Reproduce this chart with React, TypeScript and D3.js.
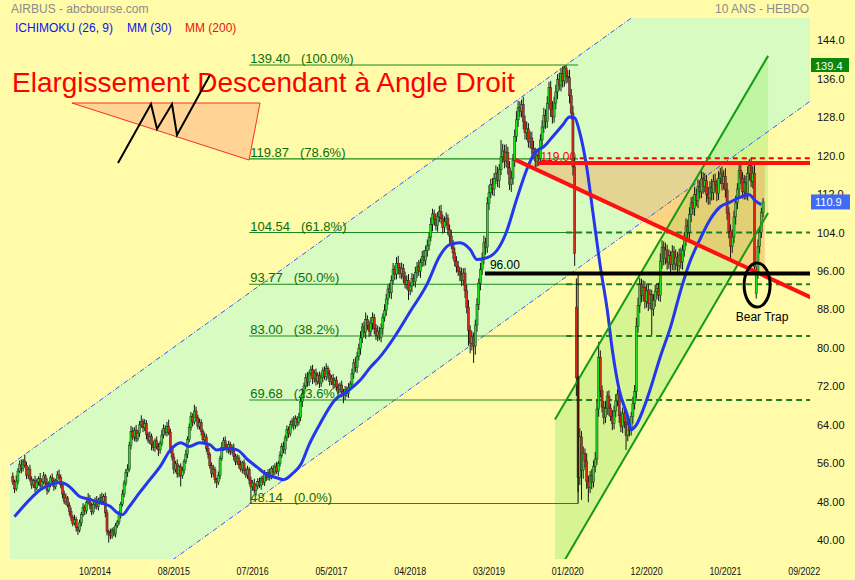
import React from "react";
import * as d3 from "d3";

// ---- Weekly Airbus prices (EUR), Nov 2013 → Mar 2022 ----
const firstOpen = 53.8;
const closes: number[] = [
  52.6, 51.2, 52.8, 54.9, 56.2, 55.4, 57.0, 56.1, 54.0, 55.3,
  53.2, 52.0, 52.9, 51.4, 52.6, 53.3, 51.8, 52.7, 53.9, 52.4,
  50.9, 52.2, 53.5, 52.8, 51.6, 52.9, 54.1, 53.6, 52.0, 50.1,
  48.6, 49.3, 47.8, 46.5, 45.2, 44.0, 44.8, 43.1, 42.6, 44.1,
  45.9, 47.3, 46.6, 48.4, 49.2, 47.8, 46.4, 47.9, 48.8, 47.5,
  48.9, 49.4, 48.6, 49.6, 46.2, 42.3, 42.0, 41.4, 42.6, 41.8,
  43.5, 44.3, 45.8, 48.0, 50.1, 52.4, 54.6, 55.3, 60.2, 63.1,
  62.0, 63.4, 61.6, 62.8, 64.5, 65.2, 63.9, 64.8, 62.5, 61.3,
  62.1, 60.4, 59.8, 61.2, 60.0, 59.3, 60.6, 62.4, 63.8, 62.9,
  64.2, 63.0, 59.6, 57.8, 55.2, 56.4, 54.3, 55.8, 53.9, 55.0,
  56.9, 58.4, 61.5, 64.0, 66.2, 65.1, 67.4, 66.0, 64.2, 65.0,
  63.1, 61.4, 62.0, 59.6, 58.3, 56.0, 54.4, 55.2, 53.1, 52.6,
  54.0, 57.5, 59.8, 61.2, 60.1, 59.3, 60.4, 58.9, 59.7, 58.0,
  56.8, 57.6, 56.2, 55.3, 56.6, 55.0, 54.1, 55.2, 53.0, 51.6,
  52.4, 50.9, 51.8, 52.7, 51.9, 53.4, 52.6, 54.2, 53.5, 54.6,
  53.8, 55.4, 54.7, 55.9, 54.8, 56.5, 58.2, 60.0, 59.4, 61.8,
  63.5, 62.7, 64.6, 65.3, 64.4, 65.8, 65.0, 66.1, 69.4, 71.0,
  72.6, 74.3, 73.4, 75.2, 76.0, 74.1, 75.3, 73.6, 74.8, 73.2,
  74.4, 75.8, 74.6, 76.2, 75.1, 73.5, 74.2, 72.9, 73.8, 72.4,
  71.9, 72.8, 71.4, 70.6, 71.8, 71.1, 72.3, 73.0, 75.2, 77.4,
  76.5, 78.8, 80.4, 82.6, 84.9, 83.8, 86.4, 85.2, 84.0, 85.6,
  86.8, 84.5, 83.1, 84.0, 82.7, 84.6, 86.9, 88.3, 90.7, 92.8,
  92.0, 94.6, 96.8, 95.9, 98.1, 97.2, 96.0, 97.1, 95.3, 93.8,
  94.6, 92.5, 93.4, 95.0, 94.3, 96.2, 97.4, 96.5, 98.3, 99.6,
  98.7, 100.8, 101.9, 103.6, 106.2, 108.4, 107.2, 106.0, 107.8, 108.9,
  107.4, 105.6, 106.8, 107.5, 105.2, 103.8, 102.1, 100.3, 98.6, 97.4,
  96.5, 95.8, 94.6, 96.1, 92.4, 89.0, 84.2, 81.5, 82.8, 80.9,
  85.3, 89.6, 94.0, 96.8, 99.2, 102.4, 101.5, 110.6, 112.8, 114.5,
  113.6, 115.8, 116.9, 115.4, 117.6, 120.3, 121.5, 119.4, 121.2, 118.0,
  114.6, 115.8, 119.6, 124.5, 128.0, 130.6, 129.8, 131.2, 127.6, 125.3,
  126.1, 123.4, 124.2, 122.0, 121.1, 119.4, 120.6, 119.9, 123.8, 126.5,
  128.9, 127.6, 131.4, 134.7, 130.2, 128.6, 131.5, 133.8, 136.4, 135.2,
  137.6, 136.1, 138.8, 137.0, 136.8, 133.0, 129.4, 118.2, 100.2, 74.3,
  53.6, 62.0, 55.1, 58.6, 57.0, 52.8, 51.5, 54.0, 52.6, 55.9,
  57.4, 67.8, 78.6, 71.6, 68.2, 66.1, 67.9, 70.5, 68.0, 66.3,
  64.8, 67.4, 69.5, 70.9, 66.4, 64.2, 66.8, 65.1, 62.3, 64.6,
  63.4, 66.2, 68.9, 71.5, 85.0, 89.4, 93.7, 91.4, 93.1, 90.2,
  92.5, 89.8, 91.6, 88.6, 90.4, 92.2, 92.9, 91.5, 98.6, 101.5,
  99.1, 100.9, 98.3, 99.7, 97.9, 100.5, 98.0, 99.4, 97.6, 99.9,
  98.4, 100.8, 103.2, 105.9, 104.6, 108.3, 110.7, 109.5, 112.4, 111.2,
  114.1, 113.0, 115.7, 114.1, 115.3, 112.5, 111.7, 113.9, 112.8, 115.2,
  114.4, 112.7, 115.8, 116.9, 114.8, 116.2, 113.4, 108.6, 104.8, 101.7,
  103.6, 107.8, 110.7, 113.6, 117.5, 115.8, 113.0, 114.9, 112.7, 116.8,
  118.5, 115.2, 116.9, 97.4, 96.2, 101.6, 104.6, 108.7, 110.9,
];

// Distance from body top to weekly high
const wickUp: number[] = [
  0.8, 0.5, 1.2, 0.6, 0.9, 1.1, 0.4, 1.3, 0.7, 0.5,
  0.9, 0.6, 0.4, 1.0, 0.7, 0.5, 1.2, 0.6, 0.8, 0.4,
  1.0, 0.6, 0.5, 0.9, 0.7, 0.4, 0.8, 1.1, 0.6, 0.5,
  0.7, 0.9, 0.4, 0.6, 0.8, 0.5, 1.0, 0.6, 0.4, 0.7,
  0.5, 0.9, 0.6, 0.4, 1.1, 0.7, 0.5, 0.8, 0.6, 0.9,
  0.4, 0.7, 1.0, 0.5, 0.8, 0.6, 0.4, 0.9, 0.5, 0.7,
  0.6, 0.4, 0.8, 0.5, 0.9, 0.6, 0.7, 1.0, 0.8, 1.2,
  0.9, 0.6, 1.1, 0.7, 0.8, 1.3, 0.6, 0.9, 0.7, 0.5,
  1.0, 0.6, 0.8, 0.5, 0.9, 0.7, 0.6, 1.1, 0.8, 0.6,
  0.9, 1.4, 0.7, 0.5, 0.8, 0.6, 0.9, 0.4, 0.7, 0.8,
  0.5, 0.9, 0.6, 0.8, 1.0, 0.7, 1.3, 0.9, 0.6, 0.8,
  0.7, 0.5, 0.9, 0.6, 0.8, 0.5, 0.7, 1.0, 0.6, 0.4,
  0.8, 0.6, 1.1, 0.7, 0.9, 0.5, 0.8, 0.6, 0.7, 0.9,
  0.5, 0.8, 0.6, 0.9, 0.4, 0.7, 0.6, 0.8, 0.5, 0.7,
  0.6, 0.9, 0.5, 0.7, 0.8, 0.4, 0.6, 0.9, 0.5, 0.7,
  0.8, 0.5, 0.7, 0.6, 0.9, 0.5, 0.8, 0.7, 1.0, 0.6,
  0.9, 0.7, 0.8, 0.6, 1.0, 0.7, 0.5, 0.9, 0.8, 1.1,
  0.7, 0.9, 1.2, 0.6, 0.8, 1.0, 0.7, 0.9, 0.6, 0.8,
  1.0, 0.7, 0.9, 1.1, 0.6, 0.8, 0.7, 0.9, 0.6, 0.8,
  0.7, 0.5, 0.9, 0.6, 0.8, 0.7, 0.9, 0.6, 1.0, 0.8,
  1.2, 0.9, 1.0, 1.4, 0.8, 1.1, 1.5, 0.9, 1.0, 1.3,
  1.1, 0.8, 1.0, 1.2, 0.9, 1.0, 0.8, 1.3, 1.1, 0.9,
  1.2, 1.0, 1.4, 0.9, 1.3, 1.6, 1.0, 1.2, 0.9, 1.1,
  1.0, 1.3, 0.8, 1.1, 0.9, 1.2, 1.0, 1.4, 0.8, 1.1,
  1.3, 1.0, 1.2, 0.9, 1.5, 1.1, 0.9, 1.3, 1.0, 1.2,
  1.4, 0.9, 1.1, 1.2, 0.8, 1.0, 1.3, 0.9, 1.1, 1.0,
  1.2, 0.9, 1.4, 1.0, 1.1, 1.3, 1.5, 1.0, 1.2, 0.9,
  1.1, 1.3, 1.0, 1.4, 1.2, 1.5, 1.1, 1.3, 1.6, 1.2,
  1.4, 1.1, 1.6, 1.3, 1.2, 3.5, 1.5, 1.3, 1.7, 1.2,
  1.4, 1.6, 1.3, 1.5, 1.8, 1.4, 1.2, 1.0, 1.6, 1.3,
  1.5, 1.2, 1.4, 1.3, 1.6, 1.1, 1.3, 1.5, 1.2, 1.4,
  1.6, 1.3, 1.5, 1.2, 1.4, 1.7, 1.3, 1.5, 1.1, 1.4,
  1.2, 1.5, 0.4, 0.6, 1.3, 1.6, 1.4, 1.5, 2.0, 6.0,
  0.4, 1.8, 1.2, 1.4, 1.0, 1.6, 1.1, 0.9, 1.3, 1.2,
  1.5, 2.0, 3.2, 1.4, 1.1, 1.3, 1.6, 1.0, 1.2, 0.9,
  1.3, 1.1, 1.4, 1.0, 1.2, 0.9, 1.3, 1.0, 1.1, 1.4,
  1.2, 1.0, 1.5, 1.3, 1.8, 1.6, 1.4, 1.2, 1.5, 1.3,
  1.1, 1.4, 1.2, 1.0, 1.3, 1.5, 1.1, 1.2, 1.6, 1.4,
  1.2, 1.5, 1.1, 1.3, 1.0, 1.4, 1.2, 1.6, 1.1, 1.3,
  1.5, 1.2, 1.4, 1.6, 1.3, 1.5, 1.2, 1.4, 1.7, 1.3,
  1.5, 1.3, 2.0, 1.4, 1.6, 1.2, 1.5, 1.3, 1.8, 1.4,
  1.6, 1.2, 1.5, 1.1, 1.4, 1.3, 1.7, 1.5, 1.2, 1.4,
  1.6, 1.3, 1.5, 1.2, 1.1, 1.8, 1.3, 1.6, 1.4, 1.5,
  1.3, 1.6, 1.4, 1.7, 1.3, 1.5, 1.2, 1.0, 0.8,
];

// Distance from body bottom to weekly low
const wickDown: number[] = [
  0.6, 0.9, 0.5, 0.7, 0.4, 1.0, 0.6, 0.5, 0.8, 0.7,
  0.5, 0.8, 0.6, 0.9, 0.5, 0.7, 0.4, 0.8, 0.6, 0.7,
  0.9, 0.5, 0.7, 0.6, 0.8, 0.5, 0.6, 0.4, 0.7, 0.9,
  0.6, 0.8, 0.5, 0.9, 0.7, 0.6, 0.4, 0.8, 1.0, 0.5,
  0.7, 0.5, 0.9, 0.6, 0.4, 0.8, 0.7, 0.5, 0.9, 0.6,
  0.8, 0.5, 0.7, 0.6, 0.9, 0.8, 2.0, 0.7, 0.6, 0.5,
  0.7, 0.5, 0.6, 0.8, 0.5, 0.7, 0.6, 0.9, 0.5, 0.8,
  0.6, 0.9, 0.7, 0.5, 0.8, 0.6, 0.9, 0.7, 1.0, 0.6,
  0.8, 1.2, 0.7, 0.9, 0.6, 1.3, 0.8, 0.5, 0.7, 0.6,
  0.8, 0.6, 1.0, 0.7, 0.9, 0.6, 0.8, 0.7, 2.2, 0.6,
  0.7, 0.5, 0.8, 0.6, 0.7, 0.9, 0.5, 0.8, 0.6, 0.7,
  0.8, 0.6, 0.9, 0.7, 0.8, 0.6, 0.9, 0.7, 0.8, 1.2,
  0.6, 0.8, 0.5, 0.7, 0.9, 0.6, 0.8, 0.7, 0.5, 0.9,
  0.7, 0.6, 0.8, 0.5, 0.9, 0.7, 0.6, 0.8, 0.9, 3.46,
  0.8, 0.6, 1.1, 0.7, 0.5, 0.9, 0.6, 0.8, 0.7, 0.5,
  0.9, 0.6, 0.8, 0.7, 0.5, 0.9, 0.7, 0.6, 0.8, 1.0,
  0.7, 0.9, 0.6, 0.8, 1.0, 0.7, 0.9, 0.6, 0.8, 1.2,
  0.9, 0.7, 1.0, 0.8, 0.6, 1.1, 0.8, 0.9, 0.7, 1.0,
  0.8, 1.0, 0.7, 0.9, 1.1, 0.8, 0.7, 1.0, 0.8, 0.9,
  1.0, 0.8, 1.2, 1.6, 0.9, 0.8, 1.0, 0.7, 0.9, 1.1,
  1.0, 1.2, 0.9, 1.3, 1.1, 1.0, 1.4, 0.9, 1.2, 1.0,
  1.3, 1.1, 0.9, 1.2, 0.6, 1.0, 1.3, 0.9, 1.1, 1.2,
  1.0, 1.3, 0.9, 1.2, 1.1, 1.4, 1.0, 1.2, 1.3, 0.9,
  1.1, 2.0, 1.0, 1.3, 0.9, 1.2, 1.1, 1.0, 1.4, 0.9,
  1.2, 1.0, 1.3, 1.1, 0.9, 1.4, 1.2, 1.0, 1.3, 1.1,
  1.0, 1.3, 1.1, 0.9, 1.2, 1.4, 1.0, 1.3, 1.1, 1.2,
  1.0, 1.4, 1.2, 1.1, 1.5, 1.3, 3.2, 2.1, 1.5, 3.5,
  1.8, 1.4, 1.2, 1.5, 1.1, 1.3, 1.6, 1.2, 1.4, 1.1,
  1.3, 1.5, 1.2, 1.4, 1.6, 1.1, 1.3, 1.5, 1.2, 1.4,
  1.2, 1.6, 1.3, 1.4, 1.1, 1.5, 1.2, 1.3, 1.6, 1.4,
  1.5, 1.2, 1.4, 1.3, 1.1, 1.6, 1.2, 1.5, 1.3, 1.4,
  1.2, 1.5, 1.3, 1.1, 1.6, 1.4, 1.2, 1.3, 1.5, 1.1,
  1.3, 1.4, 1.2, 1.5, 1.1, 1.6, 1.3, 1.8, 2.6, 3.8,
  3.1, 1.6, 6.2, 1.8, 1.4, 1.6, 3.1, 1.2, 1.5, 1.1,
  1.3, 1.2, 1.6, 1.4, 1.1, 1.5, 1.2, 1.3, 1.6, 1.0,
  1.4, 1.2, 1.3, 1.1, 1.5, 1.2, 1.4, 1.3, 3.0, 1.2,
  1.3, 1.1, 1.4, 1.2, 1.5, 1.3, 1.6, 1.4, 1.2, 1.5,
  1.3, 1.6, 1.2, 5.4, 1.4, 1.3, 1.5, 1.2, 1.4, 1.6,
  1.4, 1.2, 1.5, 1.3, 1.6, 1.2, 1.4, 1.3, 1.5, 1.2,
  1.4, 1.6, 1.3, 1.5, 1.2, 1.4, 1.6, 1.3, 1.5, 1.2,
  1.6, 1.4, 1.3, 1.5, 1.2, 1.7, 1.4, 1.3, 1.6, 1.5,
  1.3, 1.6, 1.4, 1.2, 1.5, 1.3, 1.6, 1.4, 1.5, 2.8,
  1.4, 1.2, 1.6, 1.3, 1.5, 1.2, 1.4, 1.6, 1.3, 1.5,
  1.4, 1.2, 1.5, 1.6, 1.1, 1.3, 1.4, 1.2, 1.0,
];

// Weeks that opened away from the prior close: [week index, open]
const gapOpens: [number, number][] = [
  [329, 89.0],
  [434, 91.9],
];

// 30-week moving average: [week index] and value
const maWeeks: number[] = [
  1, 10, 16, 22, 28, 33, 39, 45, 51, 57, 61, 64, 68, 74, 80, 86, 92, 98, 103, 109,
  115, 119, 125, 131, 137, 143, 148, 154, 158, 164, 168, 173, 179, 188, 195, 203, 209, 214, 223, 232,
  242, 249, 255, 261, 267, 271, 277, 283, 288, 294, 300, 305, 310, 315, 321, 325, 328, 331, 335, 339,
  343, 347, 350, 354, 359, 361, 364, 368, 372, 378, 384, 390, 395, 401, 407, 413, 419, 424, 430, 433, 437,
];
const maValues: number[] = [
  45.4, 49.0, 51.0, 52.1, 52.5, 51.7, 49.6, 49.0, 48.3, 47.5, 46.2, 45.8, 47.5, 50.4, 53.1, 55.8, 59.3, 60.8, 60.0, 60.8,
  60.4, 59.3, 59.6, 59.3, 57.3, 55.6, 54.2, 53.5, 53.1, 54.6, 56.2, 60.4, 64.5, 69.7, 71.4, 73.9, 76.6, 78.5, 82.9, 88.1,
  93.9, 99.5, 102.0, 102.4, 101.0, 98.9, 99.3, 101.0, 104.5, 111.3, 117.6, 121.3, 122.4, 124.4, 126.9, 128.6, 128.4, 125.3, 118.2, 107.8,
  97.4, 88.5, 80.1, 71.8, 66.2, 63.5, 64.5, 67.7, 71.8, 78.7, 84.9, 92.6, 98.2, 103.0, 107.2, 109.9, 110.9, 111.8, 112.4, 111.3, 110.3,
];

// Axes
const yTicks: number[] = [144, 136, 128, 120, 112, 104, 96, 88, 80, 72, 64, 56, 48, 40];
const yTickLabels: string[] = ["144.0", "136.0", "128.0", "120.0", "112.0", "104.0", "96.00", "88.00", "80.00", "72.00", "64.00", "56.00", "48.00", "40.00"];
const xTickWeeks: number[] = [48, 94, 140, 186, 232, 278, 324, 370, 416, 462];
const xTickLabels: string[] = ["10/2014", "08/2015", "07/2016", "05/2017", "04/2018", "03/2019", "01/2020", "12/2020", "10/2021", "09/2022"];

// Fibonacci retracement between the 2016 low and the 2020 high
const fibLevels: number[] = [139.4, 119.87, 104.54, 93.77, 83.0, 69.68, 48.14];
const fibValueLabels: string[] = ["139.40", "119.87", "104.54", "93.77", "83.00", "69.68", "48.14"];
const fibPctLabels: string[] = ["(100.0%)", "(78.6%)", "(61.8%)", "(50.0%)", "(38.2%)", "(23.6%)", "(0.0%)"];
const fibExtended: number[] = [104.54, 93.77, 83.0, 69.68];
const fibFromWeek = 138;
const fibToWeek = 330;

// Drawn trend lines, as [week index, price] pairs
const wideUpper: [number, number][] = [[-1.7, 56.11], [466, 176.1]];
const wideLower: [number, number][] = [[-1.7, 12.05], [466, 132.0]];
const steepUpper: [number, number][] = [[316.5, 65.6], [440.9, 141.3]];
const steepLower: [number, number][] = [[316.5, 32.9], [440.9, 108.6]];
const fallingLine: [number, number][] = [[293.2, 119.7], [466, 91.0]];
const wedgeFill: [number, number][] = [[297.4, 119.0], [439, 119.0], [439, 95.5]];
const resistance = { value: 119.0, from: 306, label: "119.00" };
const resistanceTop = { value: 120.0, from: 331 };
const support = { value: 96.0, from: 275.6, label: "96.00" };
const bearTrap = { week: 434.5, value: 93.6 };
const lastPrice = 110.9;
const highPrice = 139.4;
const rightWeek = 466;

const W = 855;
const H = 580;
const BG = "#FFFBA8";
const CHANNEL = "#D8FBC2";
const FONT = "'Liberation Sans', Arial, Helvetica, sans-serif";

export default function App() {
  const x = d3.scaleLinear().domain([0, 438]).range([12.8, 12.8 + 438 * 1.713]);
  const y = d3.scaleLinear().domain([40, 144]).range([42.9 + 104 * 4.805, 42.9]);

  const plotLeft = 10;
  const plotRight = x(rightWeek) > 810 ? 810 : x(rightWeek);
  const plotTop = 18;
  const plotBottom = 559;

  const bars = closes.map((c, i) => {
    const gap = gapOpens.find((g) => g[0] === i);
    const o = gap ? gap[1] : i === 0 ? firstOpen : closes[i - 1];
    const hi = Math.max(o, c) + wickUp[i];
    const lo = Math.min(o, c) - wickDown[i];
    return { i, o, c, hi, lo };
  });

  const line = d3
    .line<[number, number]>()
    .x((d) => x(d[0]))
    .y((d) => y(d[1]));
  const poly = (pts: [number, number][]) => (line(pts) || "") + "Z";

  const maPts: [number, number][] = maWeeks.map((w, k) => [w, maValues[k]]);
  const maPath = d3
    .line<[number, number]>()
    .x((d) => x(d[0]))
    .y((d) => y(d[1]))
    .curve(d3.curveMonotoneX)(maPts);

  const widePoly: [number, number][] = [wideUpper[0], wideUpper[1], wideLower[1], wideLower[0]];
  const steepPoly: [number, number][] = [steepUpper[0], steepUpper[1], steepLower[1], steepLower[0]];

  const bodyW = 2.1;

  return (
    <div style={{ position: "absolute", left: 0, top: 0, width: W, height: H }}>
      <svg width={W} height={H} style={{ display: "block" }} fontFamily={FONT}>
        <defs>
          <clipPath id="plotClip">
            <rect x={plotLeft} y={plotTop} width={plotRight - plotLeft} height={plotBottom - plotTop} />
          </clipPath>
        </defs>
        <rect x={0} y={0} width={W} height={H} fill={BG} />

        <g clipPath="url(#plotClip)">
          {/* long-term rising channel */}
          <path d={poly(widePoly)} fill={CHANNEL} />
          {/* 2020 rebound channel */}
          <path d={poly(steepPoly)} fill="rgba(150,235,110,0.38)" />
          {/* broadening wedge */}
          <path d={poly(wedgeFill)} fill="rgba(245,150,70,0.38)" />

          <path d={line(wideUpper) || ""} stroke="#3556F5" strokeWidth={1} strokeDasharray="5 2 1 2" fill="none" />
          <path d={line(wideLower) || ""} stroke="#3556F5" strokeWidth={1} strokeDasharray="5 2 1 2" fill="none" />

          {/* Fibonacci levels */}
          {fibLevels.map((v, k) => (
            <line key={"fib" + k} x1={x(fibFromWeek)} x2={x(fibToWeek)} y1={y(v)} y2={y(v)} stroke="#1B8A1B" strokeWidth={1.2} />
          ))}
          {fibExtended.map((v, k) => (
            <line key={"fx" + k} x1={x(323)} x2={x(rightWeek)} y1={y(v)} y2={y(v)} stroke="#1E7E1E" strokeWidth={2} strokeDasharray="6 4" />
          ))}

          <text x={x(308)} y={y(resistance.value) - 2} fontSize={12} fill="#FF0000">
            {resistance.label}
          </text>
          <line x1={x(resistanceTop.from)} x2={x(rightWeek)} y1={y(resistanceTop.value)} y2={y(resistanceTop.value)} stroke="#FF0000" strokeWidth={2} strokeDasharray="5 4" />

          {/* candles */}
          {bars.map((b) => (
            <line key={"w" + b.i} x1={x(b.i)} x2={x(b.i)} y1={y(b.hi)} y2={y(b.lo)} stroke="#151515" strokeWidth={1} />
          ))}
          {bars.map((b) => {
            const top = y(Math.max(b.o, b.c));
            const bot = y(Math.min(b.o, b.c));
            return (
              <rect
                key={"b" + b.i}
                x={x(b.i) - bodyW / 2}
                y={top}
                width={bodyW}
                height={Math.max(1, bot - top)}
                fill={b.c >= b.o ? "#1BE01B" : "#D42A1A"}
                stroke="#2A2A2A"
                strokeWidth={0.5}
              />
            );
          })}

          {/* 30-week moving average */}
          <path d={maPath || ""} stroke="#2436EE" strokeWidth={3} fill="none" strokeLinejoin="round" />

          <path d={line(steepUpper) || ""} stroke="#159A15" strokeWidth={2} fill="none" />
          <path d={line(steepLower) || ""} stroke="#159A15" strokeWidth={2} fill="none" />

          <path d={line(fallingLine) || ""} stroke="#FF1010" strokeWidth={4} fill="none" />
          <line x1={x(resistance.from)} x2={x(rightWeek)} y1={y(resistance.value)} y2={y(resistance.value)} stroke="#FF1010" strokeWidth={4} />

          <line x1={x(support.from)} x2={x(rightWeek)} y1={y(support.value)} y2={y(support.value)} stroke="#000" strokeWidth={4} />
          <line x1={x(fibToWeek)} x2={x(fibToWeek)} y1={y(support.value)} y2={y(fibLevels[6])} stroke="#000" strokeWidth={1} />

          <ellipse cx={x(bearTrap.week)} cy={y(bearTrap.value)} rx={13} ry={22} fill="none" stroke="#000" strokeWidth={3} />
        </g>

        {/* level labels */}
        {fibLevels.map((v, k) => (
          <text key={"fl" + k} x={x(fibFromWeek) + 1} y={y(v) - 2} fontSize={13} fill="#0B6E0B">
            <tspan>{fibValueLabels[k]}</tspan>
            <tspan dx={11}>{fibPctLabels[k]}</tspan>
          </text>
        ))}
        <text x={x(support.from) + 5} y={y(support.value) - 5} fontSize={12} fill="#000">
          {support.label}
        </text>
        <text x={x(bearTrap.week) + 5} y={y(bearTrap.value) + 36} fontSize={12} fill="#000" textAnchor="middle">
          Bear Trap
        </text>

        {/* right price axis */}
        {yTicks.map((v, k) => (
          <text key={"yt" + k} x={817} y={y(v) + 1.5} fontSize={11} fill="#111">
            {yTickLabels[k]}
          </text>
        ))}
        <rect x={811} y={y(highPrice) - 7} width={38} height={14} fill="#0A860A" />
        <text x={815} y={y(highPrice) + 4.5} fontSize={11} fill="#fff">
          {highPrice.toFixed(1)}
        </text>
        <rect x={811} y={y(lastPrice) - 7.5} width={39} height={15} fill="#3F6CF4" />
        <text x={815} y={y(lastPrice) + 4.5} fontSize={11} fill="#fff">
          {lastPrice.toFixed(1)}
        </text>

        {/* time axis */}
        {xTickWeeks.map((w, k) => (
          <text key={"xt" + k} x={x(w)} y={575} fontSize={11} fill="#111" textAnchor="middle" textLength={32} lengthAdjust="spacingAndGlyphs">
            {xTickLabels[k]}
          </text>
        ))}

        {/* header */}
        <text x={11} y={13} fontSize={12} fill="#8A8A8A">
          AIRBUS - abcbourse.com
        </text>
        <text x={809} y={13} fontSize={12} fill="#8A8A8A" textAnchor="end">
          10 ANS - HEBDO
        </text>
        <text y={32} fontSize={12}>
          <tspan x={15} fill="#1010F0">ICHIMOKU (26, 9)</tspan>
          <tspan x={127} fill="#1010F0">MM (30)</tspan>
          <tspan x={185} fill="#F01010">MM (200)</tspan>
        </text>

        {/* pattern title and sketch */}
        <text x={12} y={92} fontSize={28} fill="#FF0000">
          Elargissement Descendant à Angle Droit
        </text>
        <g>
          <polygon points="72,103 260,103 249,160" fill="#FFD494" stroke="#FF2A2A" strokeWidth={1} />
          <polyline points="118,163 151,104 157,129 172,104 177,135 210,75" fill="none" stroke="#000" strokeWidth={2} />
        </g>
      </svg>
    </div>
  );
}
